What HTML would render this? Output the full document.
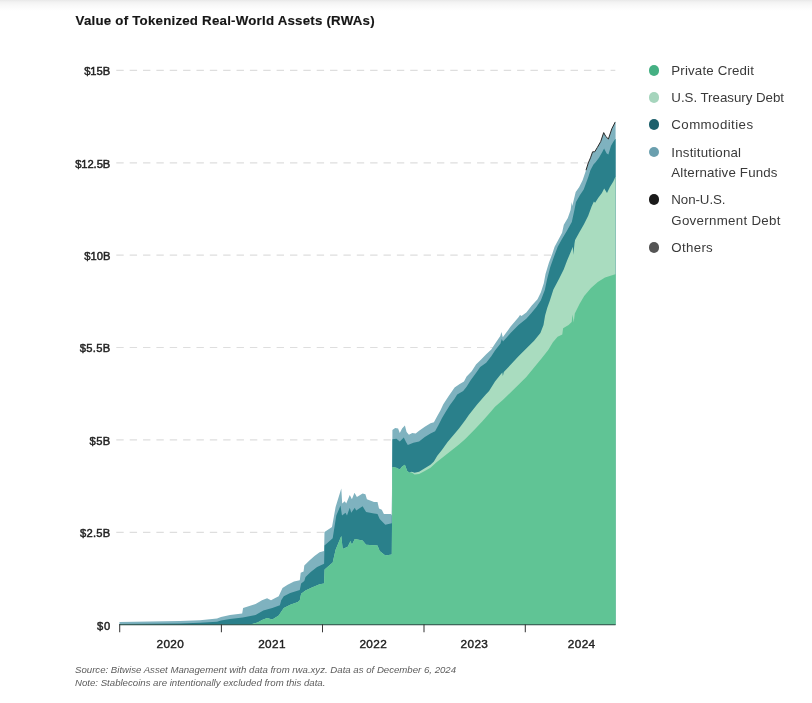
<!DOCTYPE html>
<html><head><meta charset="utf-8"><title>Value of Tokenized Real-World Assets (RWAs)</title>
<style>
html,body{margin:0;padding:0;background:#fff;}
body{width:812px;height:703px;position:relative;overflow:hidden;font-family:"Liberation Sans",Arial,sans-serif;color:#222;}
.topshade{position:absolute;left:0;top:0;width:812px;height:12px;background:linear-gradient(#e8e8e8 0,#f2f2f2 2px,#f8f8f8 5px,#fcfcfc 8px,#fff 11px);}
.t{position:absolute;white-space:nowrap;}
.title{font-weight:bold;color:#161616;-webkit-text-stroke:0.15px #161616;}
.yl{color:#222;-webkit-text-stroke:0.45px #222;}
.xl{color:#222;-webkit-text-stroke:0.4px #222;}
.lg{color:#3a3a3a;}
.dot{position:absolute;left:648.5px;width:10.6px;height:10.6px;border-radius:50%;}
.fn{font-style:italic;color:#5c5c5c;}
</style></head><body>
<div class="topshade"></div>

<div class="t title" style="top:12.09px;font-size:13.30px;line-height:17px;height:17px;letter-spacing:0.217px;left:75.6px;">Value of Tokenized Real-World Assets (RWAs)</div>
<svg width="812" height="703" viewBox="0 0 812 703" style="position:absolute;left:0;top:0">
<line x1="116.3" x2="615.3" y1="70.4" y2="70.4" stroke="#dedede" stroke-width="1.2" stroke-dasharray="7.4 5.96"/>
<line x1="116.3" x2="615.3" y1="162.8" y2="162.8" stroke="#dedede" stroke-width="1.2" stroke-dasharray="7.4 5.96"/>
<line x1="116.3" x2="615.3" y1="255.2" y2="255.2" stroke="#dedede" stroke-width="1.2" stroke-dasharray="7.4 5.96"/>
<line x1="116.3" x2="615.3" y1="347.5" y2="347.5" stroke="#dedede" stroke-width="1.2" stroke-dasharray="7.4 5.96"/>
<line x1="116.3" x2="615.3" y1="439.9" y2="439.9" stroke="#dedede" stroke-width="1.2" stroke-dasharray="7.4 5.96"/>
<line x1="116.3" x2="615.3" y1="532.3" y2="532.3" stroke="#dedede" stroke-width="1.2" stroke-dasharray="7.4 5.96"/>
<defs><clipPath id="cp"><rect x="0" y="0" width="615.6" height="703"/></clipPath></defs><g clip-path="url(#cp)">
<path d="M119.5,624.8 L119.5,622.0 L150.0,621.6 L180.0,620.9 L200.0,620.3 L217.0,618.6 L221.0,617.0 L230.0,614.9 L242.2,613.6 L243.1,607.9 L255.6,604.0 L262.0,600.2 L267.1,598.3 L271.0,600.2 L274.8,598.3 L278.7,596.3 L282.5,588.0 L287.6,584.8 L294.0,581.6 L299.8,580.3 L300.7,572.7 L303.6,571.4 L304.3,565.6 L309.4,560.5 L314.5,556.0 L319.6,552.2 L324.1,550.9 L324.5,531.9 L332.0,526.9 L335.6,507.0 L341.3,488.5 L342.2,503.4 L344.8,501.3 L346.2,503.4 L349.8,494.9 L351.9,499.2 L354.5,492.8 L356.9,497.0 L362.6,493.5 L365.4,494.2 L366.9,499.2 L374.0,502.0 L377.5,502.0 L379.0,508.4 L381.8,509.8 L383.9,514.1 L391.0,514.1 L391.8,515.5 L392.4,430.1 L395.2,427.9 L398.1,428.4 L399.8,433.0 L402.1,428.4 L404.9,425.6 L406.6,431.9 L408.9,434.7 L412.3,433.0 L415.7,433.6 L419.1,430.7 L424.8,426.7 L430.5,423.3 L433.9,422.2 L437.3,415.9 L440.4,410.5 L443.3,404.2 L448.7,396.1 L454.6,387.5 L459.7,384.1 L464.0,381.6 L466.6,376.5 L471.7,371.3 L476.0,364.5 L481.1,359.4 L486.2,354.3 L491.3,349.5 L495.0,343.8 L500.3,336.0 L501.4,332.0 L502.8,337.3 L510.6,326.6 L518.5,317.2 L520.0,314.9 L521.5,316.0 L526.3,312.5 L531.8,305.5 L537.5,299.2 L540.9,292.3 L543.8,283.2 L545.5,274.1 L548.9,262.8 L552.3,253.7 L554.6,246.8 L558.5,239.5 L562.1,232.8 L563.8,224.8 L567.8,218.0 L570.6,210.1 L571.7,202.1 L572.3,206.0 L575.7,191.9 L579.1,187.3 L582.5,180.5 L586.0,170.2 L588.3,162.9 L590.5,157.8 L592.6,151.8 L594.7,151.8 L597.3,147.5 L600.7,141.6 L603.7,132.6 L605.8,136.5 L608.4,139.0 L611.8,128.8 L615.3,121.9 L618.3,121.9 L618.3,624.8 Z" fill="#7fb2bf"/>
<path d="M119.5,624.8 L119.5,624.0 L180.0,623.4 L200.0,622.8 L217.0,621.7 L221.0,620.5 L230.0,618.9 L242.8,617.5 L255.6,614.9 L263.3,610.4 L272.3,607.9 L279.9,605.3 L281.2,600.2 L283.8,596.3 L290.2,593.1 L299.8,589.9 L301.1,583.5 L304.3,581.0 L305.5,577.1 L310.7,572.0 L317.1,566.9 L324.1,563.7 L324.5,545.4 L332.7,538.3 L336.3,515.5 L340.5,505.6 L342.0,515.5 L345.5,512.7 L347.0,515.5 L349.8,507.7 L351.2,512.7 L354.8,507.7 L356.2,510.5 L362.6,506.3 L366.1,512.0 L374.0,513.4 L377.5,514.1 L379.7,519.1 L385.3,524.8 L391.8,523.3 L392.4,439.2 L396.4,438.7 L399.8,441.5 L403.8,437.5 L406.0,442.1 L407.8,444.9 L413.4,442.7 L419.1,441.5 L424.8,437.0 L430.5,433.6 L435.1,431.3 L438.5,425.0 L441.9,418.2 L445.3,412.5 L449.8,405.2 L454.4,399.0 L457.2,394.4 L463.2,391.0 L466.6,386.7 L470.8,379.9 L476.0,373.0 L480.2,367.1 L486.2,362.8 L491.3,356.3 L495.0,350.5 L500.5,343.5 L501.8,339.0 L503.0,341.5 L510.6,333.0 L518.5,325.0 L526.3,318.8 L531.0,313.5 L536.4,307.1 L540.9,300.3 L544.8,290.1 L547.2,278.7 L550.2,267.3 L554.2,255.9 L557.7,246.8 L562.0,239.0 L566.8,231.0 L571.8,222.0 L574.2,211.0 L576.0,202.0 L580.0,195.0 L583.7,189.6 L588.3,177.0 L590.5,170.0 L593.5,164.6 L595.6,162.3 L599.0,157.8 L602.4,151.8 L604.1,148.4 L606.7,153.5 L608.4,154.4 L611.0,145.8 L613.5,141.6 L615.3,139.0 L618.3,139.0 L618.3,624.8 Z" fill="#2a808b"/>
<path d="M119.5,624.8 L119.5,625.0 L250.0,624.6 L257.5,622.6 L262.0,620.0 L267.1,618.1 L272.3,619.4 L278.7,615.5 L281.2,611.7 L283.8,607.9 L290.2,604.7 L297.9,602.1 L299.8,600.2 L301.1,593.8 L305.5,590.6 L311.9,587.4 L319.6,584.2 L324.1,583.5 L324.6,569.6 L332.7,562.5 L335.6,549.7 L341.3,536.1 L342.7,548.9 L347.7,546.8 L350.5,541.1 L351.9,544.7 L354.8,539.0 L362.6,540.4 L366.1,544.7 L377.5,545.4 L379.7,551.1 L385.3,555.4 L391.8,554.6 L392.4,467.1 L396.4,467.7 L399.8,469.4 L402.1,466.6 L404.9,464.8 L407.2,471.1 L409.5,472.8 L411.7,471.7 L414.6,472.8 L419.1,471.7 L424.8,468.3 L430.5,464.8 L433.9,461.4 L437.3,455.7 L441.9,450.1 L447.6,442.1 L453.3,435.3 L459.0,428.4 L465.0,420.5 L468.8,415.0 L477.3,404.3 L485.8,394.5 L489.1,391.0 L495.0,381.4 L500.8,374.3 L502.3,372.6 L502.9,376.0 L503.8,372.0 L510.6,364.8 L518.5,356.3 L526.3,348.5 L534.1,340.7 L540.4,332.9 L543.5,325.0 L545.1,315.6 L547.2,308.0 L549.8,300.8 L553.4,289.5 L559.1,278.7 L563.7,269.6 L567.1,260.5 L570.5,252.5 L572.8,246.8 L573.3,254.8 L574.5,243.4 L575.1,240.0 L579.1,232.8 L583.7,224.8 L588.2,215.7 L591.6,206.6 L593.9,201.5 L595.1,202.7 L598.5,197.5 L601.9,193.0 L604.2,188.4 L607.0,193.0 L609.8,187.3 L613.3,181.6 L615.3,177.1 L618.3,177.1 L618.3,624.8 Z" fill="#a9dcbf"/>
<path d="M119.5,624.8 L119.5,625.0 L250.0,624.6 L257.5,622.6 L262.0,620.0 L267.1,618.1 L272.3,619.4 L278.7,615.5 L281.2,611.7 L283.8,607.9 L290.2,604.7 L297.9,602.1 L299.8,600.2 L301.1,593.8 L305.5,590.6 L311.9,587.4 L319.6,584.2 L324.1,583.5 L324.6,569.6 L332.7,562.5 L335.6,549.7 L341.3,536.1 L342.7,548.9 L347.7,546.8 L350.5,541.1 L351.9,544.7 L354.8,539.0 L362.6,540.4 L366.1,544.7 L377.5,545.4 L379.7,551.1 L385.3,555.4 L391.8,554.6 L392.4,467.1 L396.4,467.7 L399.8,469.4 L402.1,466.6 L404.9,464.8 L407.2,471.1 L409.5,472.8 L411.7,472.5 L414.6,474.5 L419.1,473.9 L424.8,471.1 L430.5,467.7 L436.2,462.6 L441.9,458.0 L447.6,453.5 L453.3,448.9 L459.0,444.4 L465.0,439.3 L473.9,430.3 L482.4,421.3 L491.0,411.5 L495.0,406.8 L502.8,400.0 L510.6,392.5 L518.5,384.7 L526.3,376.9 L534.1,367.5 L541.9,358.0 L548.2,350.1 L552.9,342.3 L557.6,336.8 L562.3,334.4 L563.1,328.2 L568.6,325.0 L571.7,321.9 L572.5,314.5 L573.7,322.5 L574.8,313.5 L579.5,304.0 L584.2,296.0 L591.0,288.0 L597.8,282.1 L605.0,277.5 L615.3,274.3 L618.3,274.3 L618.3,624.8 Z" fill="#60c495"/>
<path d="M586.0,170.2 L588.3,162.9 L590.5,157.8 L592.6,151.8 L594.7,151.8 L597.3,147.5 L600.7,141.6 L603.7,132.6 L605.8,136.5 L608.4,139.0 L611.8,128.8 L615.3,121.9" fill="none" stroke="#2a2a2a" stroke-width="1.0" stroke-linejoin="round"/>
</g>
<line x1="119.2" x2="615.6" y1="624.7" y2="624.7" stroke="#2c4a45" stroke-width="1.15"/>
<line x1="119.7" x2="119.7" y1="624.2" y2="632.3" stroke="#3a3a3a" stroke-width="1.05"/>
<line x1="221.4" x2="221.4" y1="624.2" y2="632.3" stroke="#3a3a3a" stroke-width="1.05"/>
<line x1="322.5" x2="322.5" y1="624.2" y2="632.3" stroke="#3a3a3a" stroke-width="1.05"/>
<line x1="424.0" x2="424.0" y1="624.2" y2="632.3" stroke="#3a3a3a" stroke-width="1.05"/>
<line x1="525.3" x2="525.3" y1="624.2" y2="632.3" stroke="#3a3a3a" stroke-width="1.05"/>
</svg>
<div class="t yl" style="top:64.12px;font-size:11.20px;line-height:15px;height:15px;letter-spacing:0.010px;right:701.7px;">$15B</div>
<div class="t yl" style="top:156.52px;font-size:11.20px;line-height:15px;height:15px;letter-spacing:-0.066px;right:701.8px;">$12.5B</div>
<div class="t yl" style="top:248.92px;font-size:11.20px;line-height:15px;height:15px;letter-spacing:-0.040px;right:701.7px;">$10B</div>
<div class="t yl" style="top:341.22px;font-size:11.20px;line-height:15px;height:15px;letter-spacing:0.326px;right:701.4px;">$5.5B</div>
<div class="t yl" style="top:433.62px;font-size:11.20px;line-height:15px;height:15px;letter-spacing:0.424px;right:701.3px;">$5B</div>
<div class="t yl" style="top:526.02px;font-size:11.20px;line-height:15px;height:15px;letter-spacing:0.286px;right:701.4px;">$2.5B</div>
<div class="t yl" style="top:618.52px;font-size:11.20px;line-height:15px;height:15px;letter-spacing:0.871px;right:700.8px;">$0</div>
<div class="t xl" style="top:637.31px;font-size:11.80px;line-height:15px;height:15px;letter-spacing:0.362px;left:156.5px;">2020</div>
<div class="t xl" style="top:637.31px;font-size:11.80px;line-height:15px;height:15px;letter-spacing:0.362px;left:258.2px;">2021</div>
<div class="t xl" style="top:637.31px;font-size:11.80px;line-height:15px;height:15px;letter-spacing:0.362px;left:359.4px;">2022</div>
<div class="t xl" style="top:637.31px;font-size:11.80px;line-height:15px;height:15px;letter-spacing:0.362px;left:460.6px;">2023</div>
<div class="t xl" style="top:637.31px;font-size:11.80px;line-height:15px;height:15px;letter-spacing:0.362px;left:567.8px;">2024</div>
<div class="dot" style="top:65.0px;background:#45b083"></div>
<div class="t lg" style="top:61.99px;font-size:13.30px;line-height:17px;height:17px;letter-spacing:0.159px;left:671.3px;">Private Credit</div>
<div class="dot" style="top:92.1px;background:#a6d5bd"></div>
<div class="t lg" style="top:89.09px;font-size:13.30px;line-height:17px;height:17px;letter-spacing:-0.022px;left:671.3px;">U.S. Treasury Debt</div>
<div class="dot" style="top:119.3px;background:#1e606c"></div>
<div class="t lg" style="top:116.09px;font-size:13.30px;line-height:17px;height:17px;letter-spacing:0.417px;left:671.3px;">Commodities</div>
<div class="dot" style="top:146.5px;background:#6a9fae"></div>
<div class="t lg" style="top:143.69px;font-size:13.30px;line-height:17px;height:17px;letter-spacing:0.209px;left:671.3px;">Institutional</div>
<div class="t lg" style="top:164.19px;font-size:13.30px;line-height:17px;height:17px;letter-spacing:0.171px;left:671.3px;">Alternative Funds</div>
<div class="dot" style="top:194.3px;background:#1a1a1a"></div>
<div class="t lg" style="top:191.39px;font-size:13.30px;line-height:17px;height:17px;letter-spacing:-0.062px;left:671.3px;">Non-U.S.</div>
<div class="t lg" style="top:211.89px;font-size:13.30px;line-height:17px;height:17px;letter-spacing:0.295px;left:671.3px;">Government Debt</div>
<div class="dot" style="top:242.3px;background:#555555"></div>
<div class="t lg" style="top:239.09px;font-size:13.30px;line-height:17px;height:17px;letter-spacing:0.314px;left:671.3px;">Others</div>
<div class="t fn" style="top:663.06px;font-size:9.63px;line-height:13px;height:13px;left:75.0px;">Source: Bitwise Asset Management with data from rwa.xyz. Data as of December 6, 2024</div>
<div class="t fn" style="top:675.56px;font-size:9.63px;line-height:13px;height:13px;left:75.0px;">Note: Stablecoins are intentionally excluded from this data.</div>
</body></html>
